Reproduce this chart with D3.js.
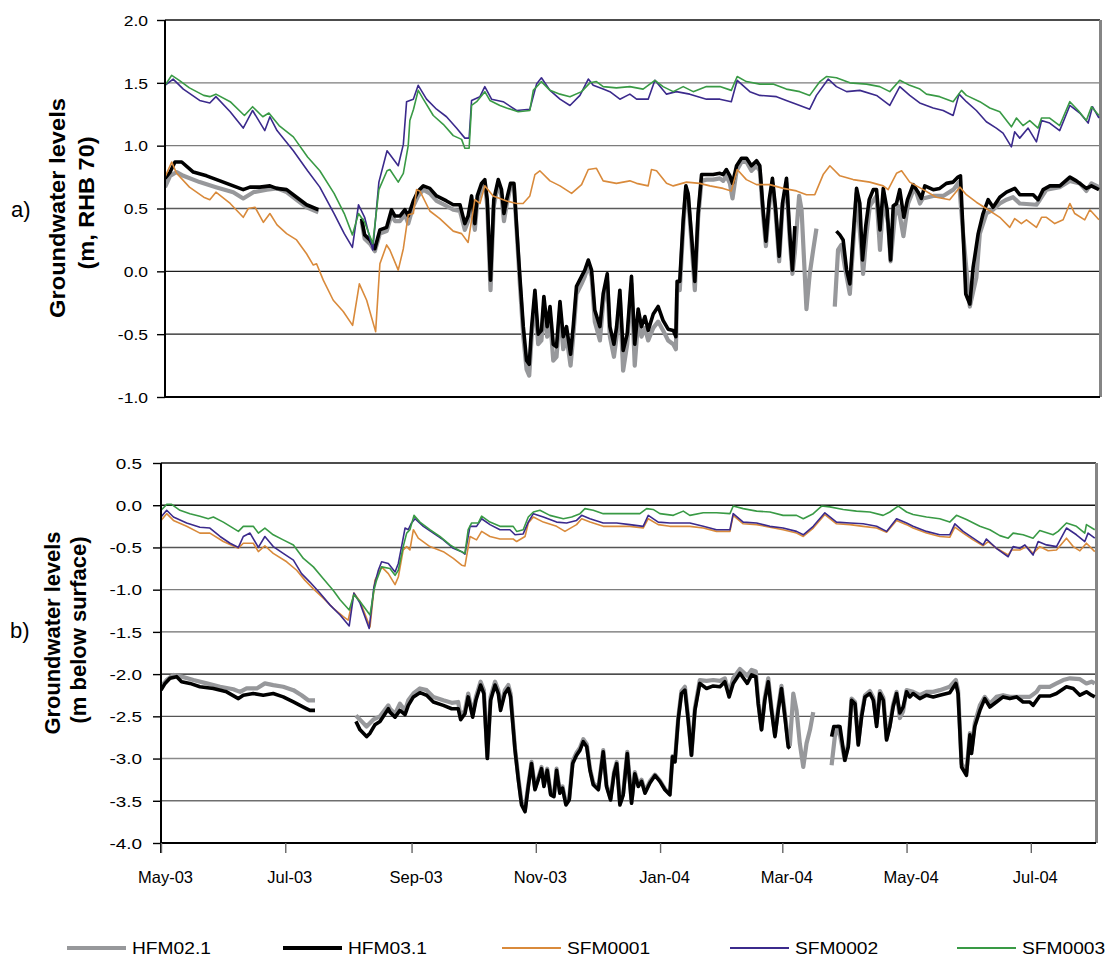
<!DOCTYPE html>
<html>
<head>
<meta charset="utf-8">
<script src="https://cdn.jsdelivr.net/npm/d3@7"></script>
<style>
  html, body { margin: 0; padding: 0; background: #fff; }
  svg { display: block; font-family: "Liberation Sans", Arial, Helvetica, sans-serif; }
</style>
</head>
<body>
<svg id="chart" width="1111" height="959"></svg>
<script>
// ---------------------------------------------------------------------------
// Groundwater levels, May 2003 - Aug 2004
// Every observation is [days since 1 May 2003, level in m]; null breaks a line.
// ---------------------------------------------------------------------------
const recordStart = "2003-05-01";
const recordEnd = "2004-08-02";
const monthTicks = ["2003-05-01", "2003-07-01", "2003-09-01", "2003-11-01",
                    "2004-01-01", "2004-03-01", "2004-05-01", "2004-07-01"];
const monthLabels = ["May-03", "Jul-03", "Sep-03", "Nov-03", "Jan-04", "Mar-04", "May-04", "Jul-04"];
const levelTicksA = [-1.0, -0.5, 0.0, 0.5, 1.0, 1.5, 2.0];
const levelTicksB = [-4.0, -3.5, -3.0, -2.5, -2.0, -1.5, -1.0, -0.5, 0.0, 0.5];
const seriesNames = ["HFM02.1", "HFM03.1", "SFM0001", "SFM0002", "SFM0003"];

// ---- a) levels in m, RHB 70 ----
const hfm02A = [[0,0.67],[2.5,0.76],[5.7,0.79],[9,0.76],[17,0.71],[25,0.67],[33.5,0.63],[38.4,0.58],[43.4,0.63],[50,0.65],[55,0.66],[59.7,0.63],[64.6,0.57],[69.5,0.51],[75.3,0.47],null,
[96.5,0.40],[98,0.26],[100.6,0.22],[103,0.16],[105.5,0.30],[108.8,0.32],[111.2,0.45],[112.9,0.40],[115.3,0.40],[117.8,0.45],[119.4,0.38],[121.9,0.52],[124.3,0.60],[126.8,0.65],[130,0.62],[133.3,0.56],[138.2,0.52],[141.5,0.49],[144.8,0.48],[147.2,0.33],[148.8,0.40],[150.5,0.55],[152.1,0.33],[153.3,0.55],[155.4,0.66],[157,0.70],[158.2,0.52],[159.8,-0.15],[161.4,0.52],[163.6,0.70],[165.2,0.60],[166.4,0.40],[167.7,0.53],[169.6,0.67],[171.3,0.68],[172.6,0.33],[174.2,-0.10],[175.9,-0.52],[177.5,-0.78],[178.8,-0.83],[180,-0.52],[181.6,-0.22],[183.2,-0.58],[184.8,-0.55],[186,-0.28],[187.6,-0.52],[189,-0.36],[190.6,-0.71],[192.2,-0.68],[193.9,-0.32],[195.5,-0.62],[197.1,-0.52],[199.1,-0.75],[200.4,-0.52],[202,-0.18],[204.5,-0.10],[206.1,-0.04],[207.8,0.05],[209.4,-0.04],[211,-0.40],[213.5,-0.55],[215.1,-0.25],[217.1,-0.08],[218.4,-0.52],[220.4,-0.68],[221.7,-0.52],[223.3,-0.22],[224.9,-0.79],[226.9,-0.58],[229,-0.10],[230.6,-0.75],[232.3,-0.38],[233.9,-0.52],[235.6,-0.45],[237.2,-0.55],[239.7,-0.45],[242.1,-0.40],[244.5,-0.47],[247,-0.55],[249.5,-0.58],[250.8,-0.62],[251.4,-0.15],[252.7,-0.15],[254.4,0.35],[255.7,0.64],[256.8,0.60],[258.5,0.22],[260.1,-0.15],[261.7,0.42],[263.4,0.72],[265.8,0.73],[269.1,0.73],[272.4,0.74],[274,0.72],[275.6,0.76],[277.3,0.70],[278.6,0.58],[280.6,0.80],[283,0.87],[285.5,0.87],[287.9,0.80],[290.4,0.84],[292,0.80],[293.6,0.45],[295,0.20],[296.6,0.52],[298.2,0.70],[299.8,0.45],[301.5,0.08],[303.1,0.50],[305.1,0.70],[306.7,0.25],[308,-0.02],[309.2,0.15],[311.3,0.60],[312.5,0.49],[314.9,-0.30],[316.5,-0.02],[318.2,0.17],[319.8,0.34],null,
[328.8,-0.28],[330.4,0.17],[332,0.21],[333.7,0.04],[336.2,-0.18],[337.8,0.20],[339.5,0.62],[341.9,0.17],[342.7,-0.02],[344.4,0.30],[346,0.52],[349.3,0.60],[351,0.17],[352.6,0.57],[355,0.38],[356.2,0.08],[358.3,0.44],[359.9,0.52],[362.5,0.28],[364.8,0.54],[368,0.67],[370.6,0.54],[372,0.58],[377.1,0.60],[382,0.60],[387,0.65],[389.8,0.71],[391.8,0.30],[395.1,-0.28],[398.3,-0.05],[400,0.30],[403.2,0.46],[406.5,0.49],[409.8,0.54],[413.1,0.57],[416.3,0.59],[419.6,0.54],[427.8,0.53],[429.5,0.57],[432.7,0.65],[439.2,0.67],[444.2,0.72],[449.1,0.70],[452.3,0.64],[454.8,0.70],[458.5,0.67]];

const hfm03A = [[0,0.74],[2.5,0.79],[4.9,0.87],[8.2,0.87],[13.9,0.79],[20.4,0.76],[27,0.72],[33.5,0.68],[38.4,0.65],[41.7,0.67],[46.6,0.67],[51.5,0.68],[54.8,0.66],[59.7,0.65],[64.6,0.59],[69.5,0.53],[75.3,0.49],null,
[96.5,0.42],[98,0.29],[100.6,0.25],[103,0.18],[105.5,0.33],[108.8,0.35],[111.2,0.49],[112.9,0.44],[115.3,0.44],[117.8,0.49],[119.4,0.44],[121.9,0.56],[124.3,0.64],[126.8,0.68],[130,0.66],[133.3,0.60],[138.2,0.56],[141.5,0.53],[144.8,0.53],[147.2,0.38],[148.8,0.44],[150.5,0.60],[152.1,0.38],[153.3,0.60],[155.4,0.70],[157,0.73],[158.2,0.57],[159.8,-0.07],[161.4,0.57],[163.6,0.73],[165.2,0.65],[166.4,0.46],[167.7,0.57],[169.6,0.70],[171.3,0.70],[172.6,0.36],[174.2,-0.04],[175.9,-0.44],[177.5,-0.71],[178.8,-0.74],[180,-0.44],[181.6,-0.15],[183.2,-0.50],[184.8,-0.47],[186,-0.20],[187.6,-0.44],[189,-0.28],[190.6,-0.58],[192.2,-0.60],[193.9,-0.24],[195.5,-0.52],[197.1,-0.44],[199.1,-0.66],[200.4,-0.44],[202,-0.12],[204.5,-0.04],[206.1,0.01],[207.8,0.09],[209.4,0.01],[211,-0.31],[213.5,-0.44],[215.1,-0.18],[217.1,-0.02],[218.4,-0.44],[220.4,-0.58],[221.7,-0.44],[223.3,-0.15],[224.9,-0.63],[226.9,-0.50],[229,-0.04],[230.6,-0.58],[232.3,-0.30],[233.9,-0.44],[235.6,-0.36],[237.2,-0.47],[239.7,-0.34],[242.1,-0.28],[244.5,-0.39],[247,-0.46],[249.5,-0.47],[250.8,-0.52],[251.4,-0.08],[252.7,-0.08],[254.4,0.41],[255.7,0.68],[256.8,0.62],[258.5,0.28],[260.1,-0.08],[261.7,0.46],[263.4,0.77],[265.8,0.77],[269.1,0.77],[272.4,0.78],[274,0.77],[275.6,0.81],[277.3,0.76],[278.6,0.70],[280.6,0.84],[283,0.90],[285.5,0.90],[287.9,0.84],[290.4,0.88],[292,0.84],[293.6,0.49],[295,0.24],[296.6,0.57],[298.2,0.74],[299.8,0.49],[301.5,0.12],[303.1,0.54],[305.1,0.74],[306.7,0.30],[308,0.01],[309.2,0.36],null,
[329.6,0.32],[331.3,0.29],[332.9,0.25],[334.6,0.01],[336.2,-0.10],[337.8,0.28],[339.5,0.66],[341.1,0.54],[342.4,0.09],[344,0.36],[345.7,0.57],[347.7,0.65],[349.3,0.65],[351,0.33],[352.6,0.66],[354.5,0.49],[356.2,0.09],[357.5,0.52],[359.1,0.54],[360.7,0.65],[362.7,0.43],[364.5,0.57],[367.3,0.69],[369.7,0.63],[371.3,0.58],[373,0.68],[377.1,0.65],[380.3,0.66],[383.6,0.70],[386.9,0.71],[389.3,0.75],[390.5,0.76],[391.8,0.30],[393.1,-0.18],[395.1,-0.26],[396.7,0.03],[398,0.17],[399.2,0.30],[401.6,0.46],[404.1,0.57],[406.5,0.51],[409.8,0.59],[413.1,0.63],[417.2,0.66],[419.6,0.61],[426.2,0.61],[428.6,0.57],[431.1,0.65],[434.4,0.68],[439.3,0.68],[444.2,0.75],[447.4,0.72],[452.3,0.66],[454.8,0.68],[458.5,0.65]];

const sfm0001A = [[0,0.75],[3.3,0.87],[5.7,0.78],[12,0.67],[19,0.59],[22,0.57],[25,0.63],[32,0.54],[38.4,0.43],[40.9,0.50],[44.2,0.51],[48.3,0.39],[51.5,0.46],[55,0.37],[59.7,0.30],[64.6,0.25],[69.5,0.14],[72.8,0.05],[74.4,0.06],[77.7,-0.07],[82.6,-0.23],[87.5,-0.32],[92.1,-0.43],[95.4,-0.10],[99,-0.23],[103.4,-0.48],[105.5,0.06],[108.8,0.21],[110.4,0.17],[114.5,0.01],[117,0.18],[119.4,0.45],[121.9,0.46],[123.5,0.65],[125.1,0.64],[130,0.48],[134.9,0.42],[141.5,0.32],[145.6,0.30],[148.8,0.23],[152.1,0.57],[154.6,0.54],[157,0.68],[161.1,0.60],[167.7,0.56],[172.6,0.54],[175.8,0.54],[179.1,0.60],[181.6,0.77],[184,0.80],[189,0.72],[193.9,0.68],[199.6,0.62],[204.5,0.69],[207.8,0.81],[211.8,0.82],[215.1,0.72],[221.6,0.70],[228.2,0.72],[231.5,0.70],[237.2,0.68],[238.8,0.81],[241.3,0.80],[246.2,0.70],[249.5,0.68],[256,0.71],[262.5,0.70],[267.5,0.68],[274,0.66],[278,0.64],[280.9,0.81],[285.4,0.73],[290.4,0.69],[296.9,0.69],[303.5,0.66],[310,0.64],[314.9,0.61],[319,0.61],[323.1,0.77],[326.4,0.84],[331.3,0.76],[337.8,0.73],[346,0.71],[352.6,0.68],[355,0.65],[359.1,0.78],[361.6,0.80],[365.6,0.71],[372.2,0.65],[378.7,0.59],[385.2,0.57],[390.2,0.67],[393.4,0.61],[398.3,0.55],[404.1,0.49],[409.8,0.43],[414.7,0.35],[417.1,0.42],[420.4,0.38],[422.9,0.41],[427.8,0.35],[430.3,0.43],[432.7,0.43],[436.8,0.38],[440.9,0.41],[444.2,0.54],[446.6,0.46],[451.5,0.41],[454,0.49],[458.5,0.41]];

const sfm0002A = [[0,1.48],[4,1.53],[9,1.45],[17,1.36],[22,1.34],[25,1.39],[32,1.27],[38.4,1.14],[43,1.28],[49,1.12],[51.5,1.23],[55,1.12],[63,0.96],[70,0.80],[76,0.67],[83,0.46],[88,0.30],[92,0.19],[95,0.53],[98,0.43],[102,0.17],[105,0.71],[109,0.96],[110.4,0.93],[114.5,0.84],[117,1.01],[118.6,1.35],[120.2,1.36],[121.9,1.37],[124.3,1.48],[128.4,1.37],[133.3,1.29],[138.2,1.23],[143.1,1.14],[147.2,1.06],[149.3,1.06],[150.5,1.36],[154.6,1.39],[157,1.47],[160.3,1.37],[166,1.35],[172.6,1.28],[179.1,1.29],[182.4,1.49],[184.8,1.54],[189,1.44],[193.9,1.37],[198.8,1.32],[203.7,1.40],[207.8,1.53],[210.2,1.48],[215.1,1.45],[218.4,1.43],[223.3,1.37],[228.2,1.41],[231.5,1.37],[237.2,1.37],[240.5,1.52],[246.2,1.41],[251,1.43],[257.6,1.41],[265.8,1.37],[272.4,1.37],[278,1.35],[280.9,1.52],[287.1,1.43],[292,1.40],[300.2,1.39],[305,1.36],[310,1.33],[316.5,1.29],[319.8,1.40],[325.6,1.53],[329.6,1.47],[334.6,1.43],[341.1,1.44],[349.3,1.40],[355.8,1.32],[360.7,1.47],[365.6,1.40],[370.5,1.34],[377.1,1.30],[382,1.28],[386.9,1.24],[389.8,1.41],[393.4,1.35],[398.3,1.28],[403.2,1.19],[408.1,1.14],[411.4,1.10],[415.5,0.99],[417.1,1.11],[419.6,1.06],[423.7,1.14],[427.8,1.03],[430.3,1.20],[434.3,1.18],[439.2,1.12],[444.2,1.32],[449.1,1.26],[453.2,1.18],[455.3,1.31],[458.5,1.22]];

const sfm0003A = [[0,1.48],[3.3,1.56],[7,1.52],[12,1.46],[19,1.40],[22,1.39],[25,1.41],[32,1.35],[39,1.24],[43,1.31],[48,1.23],[51,1.26],[56,1.16],[63,1.07],[70,0.91],[76,0.80],[83,0.62],[88,0.46],[92,0.29],[95,0.46],[98,0.39],[102,0.22],[105,0.65],[109,0.80],[110.4,0.81],[114.5,0.71],[117,0.78],[119.4,1.00],[120.2,1.20],[122,1.29],[124.3,1.44],[126.8,1.37],[131.7,1.24],[136.6,1.17],[141.5,1.08],[145.6,1.05],[147.2,0.98],[149.3,0.98],[150.5,1.32],[153,1.35],[157,1.43],[159.5,1.36],[164.4,1.32],[167.7,1.30],[173.4,1.27],[179.1,1.28],[180.8,1.44],[184.8,1.51],[189,1.44],[193.9,1.41],[198.8,1.39],[204.5,1.43],[208.6,1.50],[211.8,1.51],[215.1,1.47],[221.6,1.46],[228.2,1.47],[234.7,1.45],[240.5,1.52],[244.5,1.47],[249.5,1.43],[254.4,1.47],[259.3,1.43],[265.8,1.47],[272.4,1.47],[278,1.44],[280.9,1.55],[285.4,1.51],[292,1.49],[298.5,1.49],[305,1.45],[311.6,1.43],[316.5,1.40],[321.5,1.51],[324.7,1.55],[329.6,1.54],[336.2,1.50],[344.4,1.49],[350.9,1.47],[355.8,1.43],[360.7,1.52],[365.6,1.48],[370.6,1.45],[373.8,1.41],[380.3,1.39],[386.9,1.35],[391,1.44],[393.4,1.40],[400,1.35],[404.9,1.30],[409.8,1.27],[415.5,1.15],[418,1.22],[421.2,1.16],[424.5,1.20],[428.6,1.14],[430.3,1.22],[434.3,1.22],[439.2,1.16],[444.2,1.35],[448.3,1.28],[452.3,1.20],[454.8,1.31],[458.5,1.24]];

// ---- b) levels in m below ground surface ----
const hfm02B = [[0,-2.15],[2.8,-2.07],[6.1,-2.01],[10.1,-2.03],[15.9,-2.07],[22.4,-2.11],[29,-2.15],[35.5,-2.18],[38.8,-2.21],[42,-2.17],[47,-2.17],[51,-2.11],[55.1,-2.13],[60,-2.15],[65,-2.19],[69,-2.25],[72.3,-2.31],[75.6,-2.31],null,
[95.7,-2.49],[98.5,-2.56],[100.9,-2.62],[104.2,-2.54],[107.5,-2.50],[111.6,-2.37],[112.4,-2.41],[114.9,-2.47],[117.3,-2.35],[119.8,-2.43],[121.4,-2.31],[123.9,-2.23],[127.1,-2.17],[130.4,-2.19],[133.7,-2.27],[138.6,-2.31],[142.7,-2.34],[145.9,-2.33],[147.1,-2.51],[149.2,-2.43],[150.8,-2.23],[153,-2.47],[154.6,-2.27],[156.9,-2.09],[158.5,-2.19],[160.2,-2.98],[161.8,-2.27],[164,-2.09],[165.6,-2.19],[166.7,-2.39],[168.8,-2.19],[170.5,-2.13],[171.6,-2.23],[173.8,-2.88],[175.4,-3.22],[177,-3.52],[178.7,-3.60],[180.3,-3.31],[181.9,-3.04],[183.6,-3.35],[185.2,-3.23],[186.8,-3.10],[188,-3.31],[189.6,-3.12],[191.3,-3.41],[192.9,-3.43],[194.2,-3.12],[195.8,-3.39],[197.1,-3.33],[198.8,-3.53],[200.4,-3.47],[202.1,-3.03],[204,-2.93],[205.7,-2.87],[207.3,-2.77],[209,-2.83],[210.6,-3.12],[212.2,-3.29],[214.7,-3.35],[217.1,-2.90],[218.7,-3.31],[220.7,-3.47],[222.4,-3.16],[223.7,-3.04],[225.3,-3.53],[226.9,-3.41],[228.9,-2.92],[231,-3.51],[232.6,-3.16],[234.3,-3.31],[235.9,-3.25],[237.6,-3.39],[240,-3.27],[242.5,-3.19],[244.9,-3.26],[247.4,-3.36],[249.8,-3.42],[251.1,-2.97],[252.3,-3.03],[253.9,-2.52],[255.5,-2.20],[257.2,-2.15],[258.8,-2.52],[260.4,-2.96],[262.1,-2.40],[264.5,-2.07],[267.8,-2.08],[271.1,-2.07],[274.4,-2.08],[276.8,-2.05],[278.9,-2.22],[280.9,-2.05],[284.2,-1.94],[287.8,-2.02],[289.9,-1.95],[292,-1.97],[293.2,-2.33],[294.8,-2.65],[296.4,-2.28],[298.1,-2.05],[299.7,-2.40],[301.4,-2.72],[303,-2.40],[304.6,-2.14],[306.3,-2.47],[307.9,-2.82],[308.7,-2.84],[310.4,-2.23],[312,-2.43],[313.6,-2.82],[315.3,-3.10],[316.9,-2.82],[318.6,-2.66],[320.2,-2.45],null,
[329.2,-3.08],[330.8,-2.74],[332.5,-2.62],[334.1,-2.82],[335.7,-3.02],[337.4,-2.82],[339,-2.29],[340.7,-2.33],[342.3,-2.82],[343.9,-2.48],[345.6,-2.25],[348,-2.20],[349.7,-2.28],[351.3,-2.58],[352.9,-2.20],[354.6,-2.28],[356.2,-2.76],[357.8,-2.60],[359.4,-2.36],[361.1,-2.21],[362.7,-2.52],[364.3,-2.44],[366,-2.19],[369.2,-2.21],[372.5,-2.25],[375.8,-2.21],[379.1,-2.21],[382.3,-2.19],[387.2,-2.15],[390.2,-2.07],[391.3,-2.19],[393,-3.06],[395.4,-3.16],[397.1,-2.70],[397.9,-2.90],[399.5,-2.58],[402,-2.37],[404.4,-2.27],[406.9,-2.35],[410.1,-2.27],[413.4,-2.25],[416.7,-2.27],[420,-2.27],[423.2,-2.27],[426.5,-2.27],[429.8,-2.21],[431.4,-2.15],[436.3,-2.15],[439.6,-2.11],[442.9,-2.07],[446.2,-2.05],[451.1,-2.06],[454.3,-2.11],[456.8,-2.09],[458.4,-2.11]];

const hfm03B = [[0,-2.19],[2,-2.11],[4.4,-2.05],[7.7,-2.03],[10.1,-2.09],[14.2,-2.11],[19.1,-2.15],[25.7,-2.17],[32.2,-2.21],[38,-2.29],[40.4,-2.25],[45.3,-2.23],[50.2,-2.25],[55.1,-2.23],[60,-2.27],[65,-2.33],[69.9,-2.39],[73.1,-2.43],[75.6,-2.43],null,
[95.7,-2.56],[97.7,-2.66],[100.9,-2.74],[102.6,-2.70],[105,-2.60],[107.5,-2.56],[111.6,-2.41],[112.4,-2.45],[114.9,-2.51],[117.3,-2.43],[119.8,-2.48],[121.4,-2.37],[123.9,-2.27],[127.1,-2.22],[130.4,-2.25],[133.7,-2.33],[138.6,-2.37],[142.7,-2.41],[145.9,-2.41],[147.1,-2.54],[149.2,-2.47],[150.8,-2.27],[153,-2.51],[154.6,-2.31],[156.9,-2.13],[158.5,-2.23],[160.2,-3.00],[161.8,-2.31],[164,-2.13],[165.6,-2.23],[166.7,-2.43],[168.8,-2.23],[170.5,-2.17],[171.6,-2.27],[173.8,-2.90],[175.4,-3.25],[177,-3.55],[178.7,-3.63],[180.3,-3.33],[181.9,-3.06],[183.6,-3.37],[185.2,-3.25],[186.8,-3.12],[188,-3.33],[189.6,-3.14],[191.3,-3.43],[192.9,-3.45],[194.2,-3.14],[195.8,-3.41],[197.1,-3.35],[198.8,-3.55],[200.4,-3.49],[202.1,-3.06],[204,-2.96],[205.7,-2.90],[207.3,-2.80],[209,-2.86],[210.6,-3.14],[212.2,-3.31],[214.7,-3.37],[217.1,-2.92],[218.7,-3.33],[220.7,-3.49],[222.4,-3.18],[223.7,-3.06],[225.3,-3.55],[226.9,-3.43],[228.9,-2.94],[231,-3.53],[232.6,-3.18],[234.3,-3.33],[235.9,-3.27],[237.6,-3.41],[240,-3.29],[242.5,-3.20],[244.9,-3.27],[247.4,-3.37],[249.8,-3.43],[251.1,-2.98],[252.3,-3.04],[253.9,-2.54],[255.5,-2.23],[257.2,-2.19],[258.8,-2.54],[260.4,-2.96],[262.1,-2.43],[264.5,-2.11],[267.8,-2.17],[271.1,-2.14],[274.4,-2.15],[276.8,-2.09],[278.9,-2.27],[280.9,-2.11],[284.2,-1.99],[287.8,-2.11],[289.9,-2.01],[292,-2.03],[293.2,-2.35],[294.8,-2.66],[296.4,-2.31],[298.1,-2.09],[299.7,-2.43],[301.4,-2.74],[303,-2.43],[304.6,-2.17],[306.3,-2.51],[307.9,-2.86],[308.7,-2.88],null,
[329.2,-2.74],[330.3,-2.62],[333.3,-2.62],[335.7,-3.02],[337.4,-2.86],[339,-2.31],[340.7,-2.35],[342.3,-2.84],[343.9,-2.51],[345.6,-2.27],[348,-2.23],[349.7,-2.31],[351.3,-2.62],[352.9,-2.23],[354.6,-2.31],[356.2,-2.78],[357.8,-2.62],[359.4,-2.39],[361.1,-2.23],[362.7,-2.46],[364.3,-2.39],[366,-2.21],[367.6,-2.27],[369.2,-2.23],[372.5,-2.29],[375.8,-2.25],[379.1,-2.27],[382.3,-2.25],[387.2,-2.22],[390.2,-2.11],[391.3,-2.23],[393,-3.10],[395.4,-3.20],[397.1,-2.72],[397.9,-2.94],[399.5,-2.62],[402,-2.43],[404.4,-2.29],[406.9,-2.39],[410.1,-2.33],[413.4,-2.27],[416.7,-2.29],[420,-2.27],[423.2,-2.33],[426.5,-2.33],[428.1,-2.37],[431.4,-2.26],[436.3,-2.26],[439.6,-2.23],[444.5,-2.15],[447.8,-2.17],[451.1,-2.25],[454.3,-2.21],[456.8,-2.25],[458.4,-2.27]];

const sfm0001B = [[0,-0.18],[2.8,-0.10],[6.1,-0.18],[12.6,-0.25],[19.1,-0.33],[24,-0.33],[30.6,-0.43],[38,-0.51],[40.4,-0.45],[45.3,-0.45],[47.8,-0.55],[51,-0.48],[55.1,-0.57],[61.7,-0.67],[66.6,-0.77],[70.7,-0.89],[74.8,-0.99],[79.7,-1.10],[84.6,-1.22],[89.5,-1.32],[91.9,-1.36],[94.7,-1.04],[97.7,-1.14],[102.6,-1.44],[105,-0.89],[108.3,-0.73],[111.6,-0.81],[114.9,-0.94],[116.5,-0.85],[118.9,-0.53],[120.6,-0.49],[122.2,-0.53],[123.9,-0.29],[126.3,-0.39],[132,-0.49],[138.6,-0.55],[143.5,-0.63],[147.6,-0.71],[149.2,-0.72],[151.7,-0.37],[154.9,-0.41],[157.4,-0.31],[161.5,-0.37],[166.4,-0.40],[172.9,-0.40],[174.6,-0.43],[178.7,-0.37],[180.3,-0.21],[182.8,-0.14],[187.7,-0.20],[194.2,-0.25],[198.3,-0.31],[204,-0.23],[206.5,-0.16],[210.6,-0.20],[217.1,-0.25],[223.7,-0.25],[230.2,-0.25],[236.7,-0.27],[239.2,-0.16],[244.1,-0.23],[249.8,-0.25],[259.6,-0.25],[266.2,-0.27],[272.7,-0.31],[279.3,-0.31],[280.9,-0.12],[285.8,-0.22],[292.4,-0.23],[298.9,-0.26],[305.4,-0.29],[312,-0.33],[315.3,-0.37],[320.2,-0.27],[325.9,-0.11],[331.6,-0.22],[338.2,-0.23],[344.7,-0.25],[351.3,-0.27],[356.2,-0.32],[361.1,-0.18],[366,-0.23],[369.2,-0.27],[375.8,-0.33],[382.3,-0.37],[387.2,-0.38],[389.7,-0.26],[393.8,-0.33],[398.7,-0.41],[403.6,-0.48],[406.1,-0.43],[410.1,-0.51],[415.9,-0.59],[417.5,-0.53],[421.6,-0.53],[424.9,-0.49],[428.1,-0.57],[431.4,-0.49],[435.5,-0.54],[439.6,-0.53],[444.5,-0.39],[447.8,-0.49],[451.1,-0.54],[454.3,-0.45],[458.4,-0.55]];

const sfm0002B = [[0,-0.14],[2.8,-0.06],[6.1,-0.14],[12.6,-0.21],[19.1,-0.26],[24,-0.27],[29,-0.37],[33.9,-0.45],[38,-0.50],[40.4,-0.37],[43.7,-0.33],[47.8,-0.50],[51,-0.37],[55.1,-0.49],[60,-0.57],[65,-0.65],[69,-0.81],[73.1,-0.91],[78,-1.04],[82.9,-1.18],[87.9,-1.30],[92.4,-1.43],[94.7,-1.04],[97.7,-1.16],[102.2,-1.46],[104.5,-0.97],[106.7,-0.77],[108.3,-0.67],[111.6,-0.69],[114.9,-0.79],[116.5,-0.69],[118.1,-0.49],[119.8,-0.27],[121.4,-0.29],[123,-0.21],[124.7,-0.16],[128.8,-0.25],[133.7,-0.33],[138.6,-0.41],[143.5,-0.51],[147.6,-0.55],[149.2,-0.58],[151.7,-0.25],[154.9,-0.25],[157.4,-0.16],[161.5,-0.23],[166.4,-0.29],[171.3,-0.29],[173.8,-0.35],[177.8,-0.34],[180.3,-0.20],[182.8,-0.10],[187.7,-0.14],[194.2,-0.20],[199.1,-0.21],[204,-0.18],[206.5,-0.12],[210.6,-0.16],[217.1,-0.21],[223.7,-0.21],[230.2,-0.23],[236.7,-0.25],[239.2,-0.12],[244.1,-0.20],[249.8,-0.21],[259.6,-0.21],[266.2,-0.25],[272.7,-0.29],[279.3,-0.29],[280.9,-0.10],[285.8,-0.20],[292.4,-0.21],[298.9,-0.25],[305.4,-0.27],[312,-0.31],[315.3,-0.35],[320.2,-0.25],[325.9,-0.09],[331.6,-0.20],[338.2,-0.21],[344.7,-0.22],[351.3,-0.25],[356.2,-0.31],[361.1,-0.16],[366,-0.21],[369.2,-0.25],[375.8,-0.31],[382.3,-0.35],[387.2,-0.35],[389.7,-0.22],[393.8,-0.31],[398.7,-0.39],[403.6,-0.47],[405.2,-0.40],[410.1,-0.51],[415.9,-0.61],[418.3,-0.49],[421.6,-0.51],[424.1,-0.47],[428.1,-0.59],[430.6,-0.43],[434.7,-0.47],[439.6,-0.49],[444.5,-0.27],[449.4,-0.35],[453.5,-0.43],[455.1,-0.33],[458.4,-0.39]];

const sfm0003B = [[0,-0.06],[2.8,0.01],[5.2,0.01],[9.3,-0.06],[14.2,-0.10],[19.1,-0.13],[23.2,-0.16],[25.7,-0.14],[30.6,-0.20],[38,-0.31],[40.4,-0.25],[45.3,-0.25],[47.8,-0.33],[51,-0.27],[55.1,-0.35],[60,-0.41],[65,-0.47],[69.9,-0.63],[74.8,-0.73],[79.7,-0.87],[84.6,-1.01],[87.9,-1.12],[92.4,-1.24],[94.7,-1.06],[97.7,-1.14],[102.6,-1.30],[104.5,-1.01],[105.8,-0.89],[108.3,-0.73],[112.4,-0.75],[114.9,-0.83],[116.5,-0.77],[118.9,-0.49],[120.6,-0.33],[122.2,-0.29],[124.2,-0.12],[127.1,-0.20],[132,-0.29],[136.9,-0.37],[141.9,-0.47],[145.9,-0.53],[149.2,-0.57],[150.8,-0.29],[152.5,-0.21],[155.8,-0.21],[157.4,-0.13],[161.5,-0.20],[166.4,-0.25],[172.9,-0.25],[174.6,-0.31],[177.8,-0.29],[180.3,-0.14],[182.8,-0.08],[186,-0.06],[190.9,-0.12],[197.5,-0.16],[201.6,-0.14],[205.7,-0.10],[208.1,-0.04],[212.2,-0.06],[217.1,-0.10],[223.7,-0.10],[230.2,-0.10],[235.1,-0.10],[238.4,-0.04],[241.6,-0.05],[244.9,-0.10],[251.5,-0.12],[256.4,-0.07],[259.6,-0.12],[266.2,-0.09],[272.7,-0.09],[279.3,-0.10],[280.9,-0.01],[285.8,-0.04],[292.4,-0.07],[298.9,-0.08],[305.4,-0.12],[312,-0.12],[315.3,-0.16],[320.2,-0.10],[324.3,-0.01],[328.3,-0.02],[334.9,-0.05],[341.4,-0.07],[348,-0.08],[354.5,-0.12],[357.8,-0.08],[361.9,-0.01],[366,-0.08],[369.2,-0.11],[375.8,-0.14],[382.3,-0.16],[387.2,-0.20],[390.5,-0.12],[395.4,-0.17],[402,-0.25],[406.9,-0.29],[411.8,-0.36],[415.9,-0.39],[418.3,-0.33],[423.2,-0.35],[428.1,-0.39],[431.4,-0.30],[437.9,-0.35],[440.4,-0.31],[444.5,-0.21],[449.4,-0.25],[453.5,-0.33],[454.3,-0.23],[458.4,-0.29]];

// ---------------------------------------------------------------------------
// Styling
// ---------------------------------------------------------------------------
const seriesStyle = [
  { color: "#97989b", width: 4.2 },   // HFM02.1
  { color: "#000000", width: 3.6 },   // HFM03.1
  { color: "#d98a3b", width: 1.6 },   // SFM0001
  { color: "#3b2a8c", width: 1.6 },   // SFM0002
  { color: "#399a45", width: 1.6 }    // SFM0003
];

const svg = d3.select("#chart");
const dayMs = 864e5;
const t0 = Date.parse(recordStart + "T00:00:00Z");
const toDate = d => new Date(t0 + d * dayMs);
const fmtLevel = v => v.toFixed(1);

function drawPanel(cfg) {
  const g = svg.append("g");
  const x = d3.scaleUtc()
    .domain([new Date(recordStart + "T00:00:00Z"), new Date(recordEnd + "T00:00:00Z")])
    .range([cfg.left, cfg.right]);
  const y = d3.scaleLinear().domain(cfg.domain).range([cfg.bottom, cfg.top]);

  // horizontal gridlines (interior levels)
  const inner = cfg.ticks.slice(1, -1);
  g.append("g").selectAll("line").data(inner).join("line")
    .attr("x1", cfg.left).attr("x2", cfg.right)
    .attr("y1", d => y(d)).attr("y2", d => y(d))
    .attr("stroke", (d, i) => cfg.gridTones[i])
    .attr("stroke-width", 1.4);

  // plot frame: top, right (grey), bottom axis
  g.append("line").attr("x1", cfg.left).attr("x2", cfg.right)
    .attr("y1", cfg.top).attr("y2", cfg.top)
    .attr("stroke", "#111").attr("stroke-width", 1.6);
  g.append("line").attr("x1", cfg.right + 0.5).attr("x2", cfg.right + 0.5)
    .attr("y1", cfg.top).attr("y2", cfg.bottom)
    .attr("stroke", "#858585").attr("stroke-width", 3);

  // series
  const clipId = "clip-" + cfg.key;
  svg.append("clipPath").attr("id", clipId).append("rect")
    .attr("x", cfg.left).attr("y", cfg.top - 2)
    .attr("width", cfg.right - cfg.left).attr("height", cfg.bottom - cfg.top + 4);
  const line = d3.line()
    .defined(d => d !== null)
    .x(d => x(toDate(d[0])))
    .y(d => y(d[1]));
  g.append("g").attr("clip-path", `url(#${clipId})`)
    .selectAll("path").data(cfg.series).join("path")
    .attr("d", d => line(d))
    .attr("fill", "none")
    .attr("stroke", (d, i) => seriesStyle[i].color)
    .attr("stroke-width", (d, i) => seriesStyle[i].width)
    .attr("stroke-linejoin", "round")
    .attr("stroke-linecap", "butt");

  // bottom axis line
  g.append("line").attr("x1", cfg.left - 1).attr("x2", cfg.right)
    .attr("y1", cfg.bottom).attr("y2", cfg.bottom)
    .attr("stroke", "#000").attr("stroke-width", 1.8);

  // y axis with ticks and labels
  const yAxis = d3.axisLeft(y).tickValues(cfg.ticks).tickSize(8).tickFormat(fmtLevel);
  const ya = g.append("g").attr("transform", `translate(${cfg.left},0)`).call(yAxis);
  ya.select(".domain").remove();
  ya.selectAll(".tick line").attr("stroke", "#000").attr("stroke-width", 1.4);
  ya.selectAll(".tick text")
    .attr("fill", "#000")
    .style("font-size", "15.5px")
    .attr("x", -cfg.labelGap / cfg.labelStretch)
    .attr("dy", "0.34em")
    .attr("transform", `scale(${cfg.labelStretch},1)`);
  g.append("line").attr("x1", cfg.left).attr("x2", cfg.left)
    .attr("y1", cfg.top).attr("y2", cfg.bottom + (cfg.showDates ? 10 : 0))
    .attr("stroke", "#000").attr("stroke-width", 2);

  // date axis
  if (cfg.showDates) {
    const xAxis = d3.axisBottom(x)
      .tickValues(monthTicks.map(s => new Date(s + "T00:00:00Z")))
      .tickSize(10)
      .tickFormat((d, i) => monthLabels[i]);
    const xa = g.append("g").attr("transform", `translate(0,${cfg.bottom})`).call(xAxis);
    xa.select(".domain").remove();
    xa.selectAll(".tick line").attr("stroke", "#666").attr("stroke-width", 1.4);
    xa.selectAll(".tick text")
      .attr("fill", "#000")
      .style("font-size", "16.5px")
      .attr("x", 4).attr("y", 40).attr("dy", 0);
  }

  // axis title (two bold lines) and panel letter
  cfg.title.forEach((t, i) => {
    g.append("text")
      .attr("transform", `translate(${t.x},${t.y}) rotate(-90)`)
      .attr("text-anchor", "middle")
      .attr("textLength", t.len)
      .attr("lengthAdjust", "spacingAndGlyphs")
      .style("font-size", "22px").style("font-weight", "bold")
      .text(t.text);
  });
  g.append("text").attr("x", cfg.letter.x).attr("y", cfg.letter.y)
    .style("font-size", "22px").text(cfg.letter.text);
}

drawPanel({
  key: "a", left: 165, right: 1100, top: 20, bottom: 397,
  domain: [-1.0, 2.0], ticks: levelTicksA,
  gridTones: ["#1c1c1c", "#1c1c1c", "#5a5a5a", "#7c7c7c", "#7c7c7c"],
  labelGap: 17, labelStretch: 1.13, showDates: false,
  series: [hfm02A, hfm03A, sfm0001A, sfm0002A, sfm0003A],
  title: [
    { text: "Groundwater levels", x: 65, y: 208, len: 220 },
    { text: "(m, RHB 70)", x: 94, y: 203, len: 133 }
  ],
  letter: { text: "a)", x: 11, y: 217 }
});

drawPanel({
  key: "b", left: 161, right: 1096, top: 463, bottom: 843,
  domain: [-4.0, 0.5], ticks: levelTicksB,
  gridTones: ["#6e6e6e", "#8a8a8a", "#555555", "#111111", "#6e6e6e", "#7e7e7e", "#555555", "#111111"],
  labelGap: 19, labelStretch: 1.22, showDates: true,
  series: [hfm02B, hfm03B, sfm0001B, sfm0002B, sfm0003B],
  title: [
    { text: "Groundwater levels", x: 60, y: 633, len: 203 },
    { text: "(m below surface)", x: 86, y: 630, len: 187 }
  ],
  letter: { text: "b)", x: 10, y: 638 }
});

// legend
const legendSlots = [67, 283, 502, 730, 957];
const legend = svg.append("g").attr("transform", "translate(0,948)");
seriesNames.forEach((name, i) => {
  const x0 = legendSlots[i];
  legend.append("line")
    .attr("x1", x0).attr("x2", x0 + 59).attr("y1", 0).attr("y2", 0)
    .attr("stroke", seriesStyle[i].color)
    .attr("stroke-width", i < 2 ? 4 : 2);
  legend.append("text")
    .attr("transform", `translate(${x0 + 65},5.5) scale(1.2,1)`)
    .style("font-size", "16px")
    .text(name);
});
</script>
</body>
</html>
